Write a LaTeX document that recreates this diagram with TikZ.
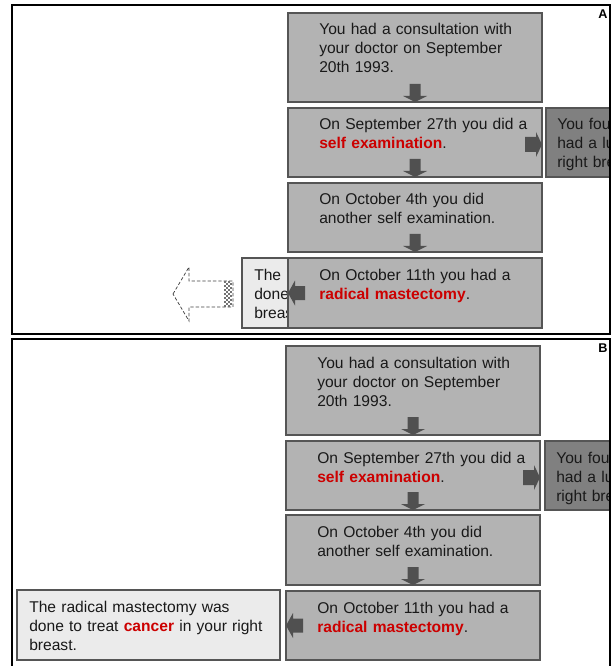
\documentclass[tikz,border=0pt]{standalone}
\usepackage{fontspec}
\setmainfont{Liberation Sans}
\definecolor{boxgray}{RGB}{179,179,179}
\definecolor{sidegray}{RGB}{128,128,128}
\definecolor{explgray}{RGB}{235,235,235}
\definecolor{edgegray}{RGB}{85,85,85}
\definecolor{blkgray}{RGB}{80,80,80}
\definecolor{hlred}{RGB}{204,0,0}
\newcommand{\hl}[1]{\textcolor{hlred}{\textbf{#1}}}
\tikzset{
  stepbox/.style={draw=edgegray,line width=0.9pt,fill=boxgray,anchor=north west,inner sep=0pt,outer sep=0pt,minimum width=190.5pt},
  sidebox/.style={stepbox,fill=sidegray},
  explbox/.style={stepbox,fill=explgray,minimum width=197.25pt},
  steptext/.style={anchor=base west,inner sep=0pt,align=left,text width=200pt,text=black!90,font=\fontsize{11.7}{14.25}\selectfont},
  panel/.style={draw=black,line width=0.8pt},
  ghost/.style={draw=black!75,line width=0.55pt,dash pattern=on 2.5pt off 1.5pt},
  tag/.style={inner sep=0pt,font=\fontsize{9.5}{11}\selectfont\bfseries},
  downblk/.pic={\fill[blkgray] (-5.5,-18) -- (5.5,-18) -- (5.5,-6) -- (12,-6) -- (0,0) -- (-12,-6) -- (-5.5,-6) -- cycle;},
  rightblk/.pic={\fill[blkgray] (-17,-7.5) -- (-6,-7.5) -- (-6,-12.5) -- (0,0) -- (-6,12.5) -- (-6,7.5) -- (-17,7.5) -- cycle;},
  leftblk/.pic={\fill[blkgray] (17,-7) -- (7,-7) -- (7,-12.5) -- (0,0) -- (7,12.5) -- (7,7) -- (17,7) -- cycle;}
}
\begin{document}
\begin{tikzpicture}[x=0.75pt,y=-0.75pt]
\useasboundingbox (0,0) rectangle (616,666);

% Panel A: the explanation slides in from the left
\begin{scope}
\clip (12,5) rectangle (610,334);
\node[explbox,minimum height=52.5pt] (ae) at (242,258) {};
\node[steptext] (aet) at ([shift={(12,22)}]ae.north west) {The radical mastectomy was\\done to treat \hl{cancer} in your right\\breast.};
\draw[ghost] (173,294) -- (189,267) -- (189,281) -- (233,281) -- (233,307) -- (189,307) -- (189,321) -- cycle;
\foreach \i in {0,...,3} {
  \foreach \j in {0,...,12} {
    \pgfmathparse{int(mod(\i+\j,2))}
    \ifnum\pgfmathresult=0 \fill[black!55] (224+2*\i,281+2*\j) rectangle ++(2,2); \fi
  }
}
\node[stepbox,minimum height=66.75pt] (a1) at (288,13) {};
\node[stepbox,minimum height=51.75pt] (a2) at (288,108) {};
\node[stepbox,minimum height=51.75pt] (a3) at (288,183) {};
\node[stepbox,minimum height=52.5pt] (a4) at (288,258) {};
\node[sidebox,minimum height=51.75pt] (as) at (546,108) {};
\node[steptext] (a1t) at ([shift={(31,22)}]a1.north west) {You had a consultation with\\your doctor on September\\20th 1993.};
\node[steptext] (a2t) at ([shift={(31,22)}]a2.north west) {On September 27th you did a\\\hl{self examination}.};
\node[steptext] (a3t) at ([shift={(31,22)}]a3.north west) {On October 4th you did\\another self examination.};
\node[steptext] (a4t) at ([shift={(31,22)}]a4.north west) {On October 11th you had a\\\hl{radical mastectomy}.};
\node[steptext] (ast) at ([shift={(11,22)}]as.north west) {You found that you\\had a lump in your\\right breast.};
\pic at (a1.south) {downblk};
\pic at (a2.south) {downblk};
\pic at (a3.south) {downblk};
\pic at ([shift={(0,2)}]a2.east) {rightblk};
\pic at (a4.west) {leftblk};
\end{scope}
\draw[panel] (12,5) rectangle (610,334);
\node[tag] (atag) at (603,14) {A};

% Panel B: the explanation in place
\begin{scope}
\clip (12,339) rectangle (610,680);
\node[stepbox,minimum height=66.75pt] (b1) at (286,346) {};
\node[stepbox,minimum height=51.75pt] (b2) at (286,441) {};
\node[stepbox,minimum height=52.5pt] (b3) at (286,515) {};
\node[stepbox,minimum height=51.75pt] (b4) at (286,591) {};
\node[sidebox,minimum height=51.75pt] (bs) at (545,441) {};
\node[explbox,minimum height=52.5pt] (be) at (17,590) {};
\node[steptext] (b1t) at ([shift={(31,22)}]b1.north west) {You had a consultation with\\your doctor on September\\20th 1993.};
\node[steptext] (b2t) at ([shift={(31,22)}]b2.north west) {On September 27th you did a\\\hl{self examination}.};
\node[steptext] (b3t) at ([shift={(31,22)}]b3.north west) {On October 4th you did\\another self examination.};
\node[steptext] (b4t) at ([shift={(31,22)}]b4.north west) {On October 11th you had a\\\hl{radical mastectomy}.};
\node[steptext] (bst) at ([shift={(11,22)}]bs.north west) {You found that you\\had a lump in your\\right breast.};
\node[steptext] (bet) at ([shift={(12,22)}]be.north west) {The radical mastectomy was\\done to treat \hl{cancer} in your right\\breast.};
\pic at (b1.south) {downblk};
\pic at (b2.south) {downblk};
\pic at (b3.south) {downblk};
\pic at ([shift={(0,2)}]b2.east) {rightblk};
\pic at (b4.west) {leftblk};
\end{scope}
\draw[panel] (12,339) rectangle (610,680);
\node[tag] (btag) at (603,348) {B};
\end{tikzpicture}
\end{document}
